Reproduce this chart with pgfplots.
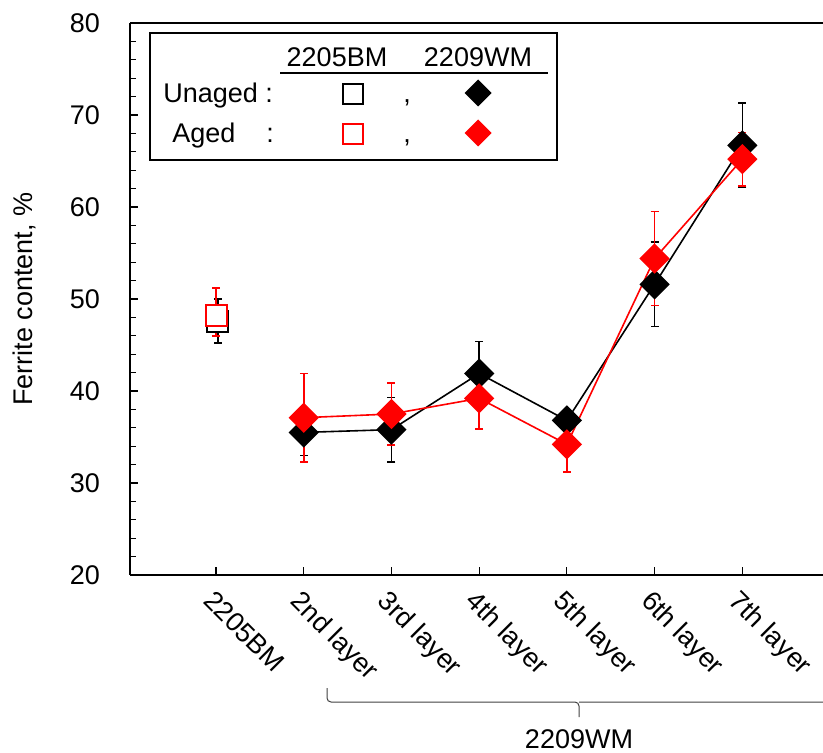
\documentclass[border=0pt]{standalone}
\usepackage{fontspec}
\setmainfont{Liberation Sans}
\usepackage{pgfplots}
\pgfplotsset{compat=1.18}
\newcommand{\fs}{\fontsize{13.5}{16}\selectfont}
\begin{document}
\begin{tikzpicture}
\begin{axis}[
  name=ax,
  scale only axis,
  width=346.5pt, height=276pt,
  xmin=-0.981, xmax=6.92,
  ymin=20, ymax=80,
  axis x line*=box,
  axis y line*=left,
  xtick={0,...,6},
  xticklabels={2205BM,2nd layer,3rd layer,4th layer,5th layer,6th layer,7th layer},
  xtick pos=left,
  ytick={20,30,...,80},
  minor y tick num=4,
  tick align=inside,
  major tick length=4pt,
  minor tick length=3pt,
  tick style={black, line width=0.6pt},
  axis line style={line width=1pt},
  /pgf/number format/assume math mode=true,
  tick label style={font=\fs},
  yticklabel style={xshift=-11.5pt},
  xticklabel style={rotate=-45, anchor=north west, inner sep=1pt, yshift=-4pt, xshift=3.5pt},
  ylabel={Ferrite content, \%},
  every axis y label/.style={at={(axis description cs:0,0.5)}, xshift=-53pt, anchor=center, rotate=90, font=\fs},
  clip=false,
]
% 2205BM unaged
\addplot[black, only marks, mark=square*, mark size=5.25pt, mark options={fill=white, line width=1pt},
  error bars/.cd, y dir=both, y explicit, error bar style={line width=0.8pt},
  error mark options={rotate=90, mark size=2pt, line width=0.8pt}]
  coordinates {(0.02,47.6) +- (0,2.4)};
% 2209WM unaged
\addplot[black, line width=0.8pt, mark=square*, mark size=4.95pt, mark options={rotate=45, fill=black},
  error bars/.cd, y dir=both, y explicit, error bar style={line width=0.8pt},
  error mark options={rotate=90, mark size=2pt, line width=0.8pt}]
  coordinates {(1,35.5) +- (0,2.5) (2,35.8) +- (0,3.5) (3,41.9) +- (0,3.5)
               (4,36.8) +- (0,1.0) (5,51.6) +- (0,4.6) (6,66.7) +- (0,4.6)};
% 2205BM aged
\addplot[red, only marks, mark=square*, mark size=5.25pt, mark options={fill=white, line width=1pt},
  error bars/.cd, y dir=both, y explicit, error bar style={line width=0.8pt},
  error mark options={rotate=90, mark size=2pt, line width=0.8pt}]
  coordinates {(0,48.2) += (0,3.0) -= (0,2.2)};
% 2209WM aged
\addplot[red, line width=0.8pt, mark=square*, mark size=4.95pt, mark options={rotate=45, fill=red},
  error bars/.cd, y dir=both, y explicit, error bar style={line width=0.8pt},
  error mark options={rotate=90, mark size=2pt, line width=0.8pt}]
  coordinates {(1,37.1) +- (0,4.8) (2,37.5) +- (0,3.4) (3,39.2) +- (0,3.3)
               (4,34.2) +- (0,3.0) (5,54.4) +- (0,5.1) (6,65.2) +- (0,2.9)};
\end{axis}
\coordinate (O) at ([shift={(-65pt,11.5pt)}]ax.north west);
\begin{scope}[shift={(O)}, x=0.5pt, y=-0.5pt]
  \draw[line width=1pt] (150,33) rectangle (557,160);
  \node[font=\fs, anchor=base, inner sep=0pt] at (337,67) {2205BM};
  \node[font=\fs, anchor=base, inner sep=0pt] at (478,67) {2209WM};
  \draw[line width=0.6pt] (280,73) -- (548,73);
  \node[font=\fs, anchor=base west, inner sep=0pt] at (163,103) {Unaged :};
  \draw[line width=1pt] (343,84) rectangle (363,104);
  \node[font=\fs, anchor=base, inner sep=0pt] at (407,103) {,};
  \fill[black] (478,79.5) -- (491.5,93) -- (478,106.5) -- (464.5,93) -- cycle;
  \node[font=\fs, anchor=base west, inner sep=0pt] at (172,143) {Aged};
  \node[font=\fs, anchor=base, inner sep=0pt] at (270,143) {:};
  \draw[red, line width=1pt] (343,124) rectangle (363,144);
  \node[font=\fs, anchor=base, inner sep=0pt] at (407,143) {,};
  \fill[red] (478,119.5) -- (491.5,133) -- (478,146.5) -- (464.5,133) -- cycle;
  % brace
  \draw[black!75, line width=0.5pt, rounded corners=2pt] (327,688) -- (327,702) -- (579,702) -- (579,717);
  \draw[black!75, line width=0.5pt, rounded corners=2pt] (579,702) -- (831,702) -- (831,688);
  \node[font=\fs, anchor=base, inner sep=0pt] at (579,748) {2209WM};
\end{scope}
\pgfresetboundingbox
\useasboundingbox ([shift={(-65pt,11.5pt)}]ax.north west) rectangle ([shift={(0pt,-89pt)}]ax.south east);
\end{tikzpicture}
\end{document}
